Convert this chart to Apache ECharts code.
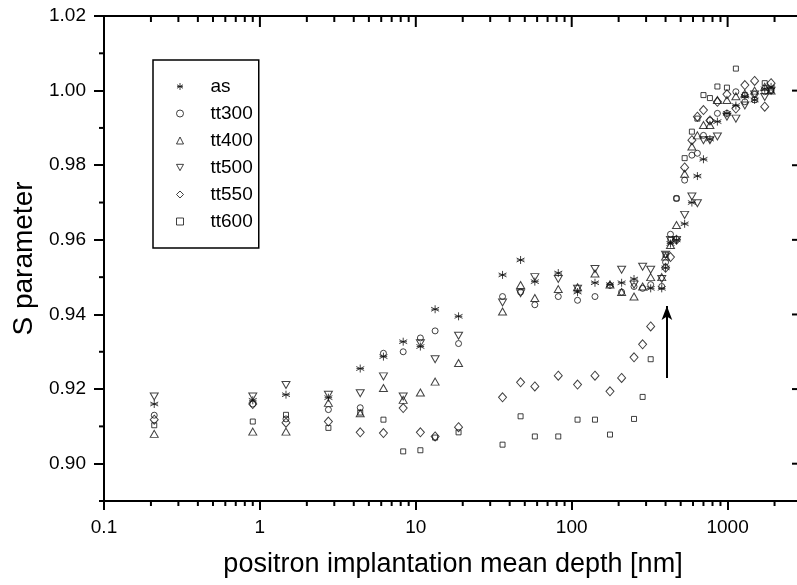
<!DOCTYPE html>
<html>
<head>
<meta charset="utf-8">
<script src="https://cdn.jsdelivr.net/npm/echarts@6/dist/echarts.min.js"></script>
<style>html,body{margin:0;padding:0;background:#fff}#c{width:797px;height:585px}</style>
</head>
<body>
<div id="c"></div>
<script>
// ---- data ----
const depthLow = [0.21, 0.9, 1.47, 2.75, 4.4, 6.2, 8.3, 10.7, 13.3, 18.8, 36, 47, 58, 82, 109, 141, 176, 209, 251, 285, 321, 378];
const depthHigh = [400, 430, 470, 530, 590, 640, 700, 770, 860, 990, 1130, 1290, 1490, 1730, 1900];

const asLow    = [0.916, 0.917, 0.9185, 0.9177, 0.9255, 0.9287, 0.9327, 0.9314, 0.9414, 0.9395, 0.9506, 0.9546, 0.9488, 0.9511, 0.946, 0.9485, 0.948, 0.9485, 0.9495, null, 0.947, 0.947];
const tt300Low = [0.913, 0.916, 0.912, 0.9145, 0.915, 0.9296, 0.930, 0.9337, 0.9356, 0.9322, 0.9448, 0.946, 0.9426, 0.9448, 0.9438, 0.9448, 0.9478, 0.946, 0.9475, 0.947, 0.948, 0.9475];
const tt400Low = [0.908, 0.9086, 0.9086, 0.9163, 0.9135, 0.9203, 0.9171, 0.9191, 0.922, 0.927, 0.9408, 0.9479, 0.9444, 0.9468, 0.9473, 0.951, 0.948, 0.946, 0.9448, 0.9475, 0.950, 0.950];
const tt500Low = [0.918, 0.918, 0.9211, 0.9185, 0.9189, 0.9234, 0.918, 0.9323, 0.928, 0.9343, 0.9432, 0.9457, 0.950, 0.9495, 0.9469, 0.9522, null, 0.952, 0.948, 0.9528, 0.952, 0.9495];
const tt550Low = [0.9118, 0.916, 0.911, 0.9113, 0.9084, 0.9082, 0.9149, 0.9084, 0.9073, 0.9098, 0.9178, 0.9218, 0.9207, 0.9236, 0.9212, 0.9236, 0.9194, 0.9230, 0.9285, 0.932, 0.9368, null];
const tt600Low = [0.9103, 0.9113, 0.9131, 0.9096, 0.9137, 0.9118, 0.9033, 0.9036, 0.907, 0.9084, 0.9051, 0.9127, 0.9073, 0.9073, 0.9118, 0.9118, 0.9078, null, 0.912, 0.9179, 0.928, null];

const asHigh    = [0.9525, 0.959, 0.960, 0.9643, 0.970, 0.9771, 0.9816, 0.987, 0.9917, 0.9939, 0.996, 0.9985, 0.9975, 1.0005, 1.001];
const tt300High = [0.954, 0.9615, 0.9711, 0.976, 0.9827, 0.9832, 0.988, 0.992, 0.9939, 0.9939, 0.9997, 0.997, 0.999, 0.9997, 1.000];
const tt400High = [0.9555, 0.9586, 0.964, 0.9777, 0.985, 0.988, 0.9908, 0.9908, 0.9975, 0.9975, 0.9985, 0.9992, 1.000, 1.001, 1.000];
const tt500High = [0.956, 0.960, 0.960, 0.9667, 0.9716, 0.9698, 0.9867, 0.9867, 0.9877, 0.993, 0.9925, 0.996, 0.999, 0.9983, 1.000];
const tt550High = [0.9525, 0.9554, 0.960, 0.9794, 0.9867, 0.993, 0.9948, 0.992, 0.997, 0.999, 0.9952, 1.0015, 1.0026, 0.9957, 1.002];
const tt600High = [0.956, 0.960, 0.9711, 0.9819, 0.989, 0.9925, 0.9988, 0.998, 1.0011, 1.0008, 1.0059, 0.9988, 0.9975, 1.002, 1.000];

const seriesNames = ['as', 'tt300', 'tt400', 'tt500', 'tt550', 'tt600'];

const xMajorTicks = [0.1, 1, 10, 100, 1000];
const xMinorTicks = [0.2,0.3,0.4,0.5,0.6,0.7,0.8,0.9, 2,3,4,5,6,7,8,9, 20,30,40,50,60,70,80,90, 200,300,400,500,600,700,800,900, 2000];
const yMajorTicks = [0.90, 0.92, 0.94, 0.96, 0.98, 1.00, 1.02];
const yMinorTicks = [0.89, 0.91, 0.93, 0.95, 0.97, 0.99, 1.01];

const arrowFrom = [408, 0.923];
const arrowTo = [408, 0.9423];

// ---- build ----
function pairs(xs, ys) {
  const out = [];
  for (let i = 0; i < xs.length; i++) if (ys[i] != null) out.push([xs[i], ys[i]]);
  return out;
}
const lowSets = [asLow, tt300Low, tt400Low, tt500Low, tt550Low, tt600Low];
const highSets = [asHigh, tt300High, tt400High, tt500High, tt550High, tt600High];

const symbols = [
  'path://M5,0 L5,10 M0.7,2.5 L9.3,7.5 M0.7,7.5 L9.3,2.5 M1,5 L9,5',
  'circle',
  'triangle',
  'path://M0,0 L10,0 L5,9 Z',
  'diamond',
  'rect'
];
const sizes = [[8, 8], 6, [8, 7], [8, 7], [8, 9], 5];

const FONT = 'Liberation Sans, Arial, Helvetica, sans-serif';

const series = seriesNames.map((n, i) => ({
  name: n,
  type: 'scatter',
  symbol: symbols[i],
  symbolSize: sizes[i],
  itemStyle: { color: 'rgba(0,0,0,0)', borderColor: '#111', borderWidth: 1 },
  emphasis: { disabled: true },
  data: pairs(depthLow, lowSets[i]).concat(pairs(depthHigh, highSets[i])),
  z: 3
}));

series.push({
  type: 'line',
  data: [],
  silent: true,
  markLine: {
    silent: true,
    symbol: ['none', 'arrow'],
    symbolSize: [8, 14],
    lineStyle: { color: '#000', width: 2, type: 'solid' },
    label: { show: false },
    emphasis: { disabled: true },
    data: [[{ coord: arrowFrom }, { coord: arrowTo }]]
  }
});

const option = {
  backgroundColor: '#fff',
  animation: false,
  grid: { left: 104, right: -5, top: 16, bottom: 84, containLabel: false, outerBoundsMode: 'none',
    show: true, borderColor: '#000', borderWidth: 2, backgroundColor: 'rgba(0,0,0,0)' },
  legend: {
    orient: 'vertical', left: 153, top: 60,
    padding: [17, 6, 17, 23],
    itemGap: 8, itemWidth: 7, itemHeight: 7,
    borderColor: '#000', borderWidth: 1.5,
    itemStyle: { color: 'rgba(0,0,0,0)', borderColor: '#111', borderWidth: 1 },
    textStyle: { fontSize: 19, fontFamily: FONT, color: '#000', padding: [0, 0, 0, 22] },
    data: seriesNames
  },
  xAxis: {
    type: 'log', logBase: 10, min: 0.1, max: 3000, position: 'bottom',
    axisLine: { show: true, lineStyle: { color: '#000', width: 2 } },
    splitLine: { show: false },
    axisTick: { show: true, inside: false, length: 9, lineStyle: { color: '#000', width: 2 }, customValues: xMajorTicks },
    axisLabel: { show: true, customValues: xMajorTicks, fontSize: 19, fontFamily: FONT, color: '#000', margin: 17,
      formatter: v => String(v) },
    name: 'positron implantation mean depth [nm]', nameLocation: 'middle', nameGap: 50,
    nameTextStyle: { fontSize: 27, fontFamily: FONT, color: '#000' }
  },
  yAxis: {
    type: 'value', min: 0.89, max: 1.02, position: 'left',
    axisLine: { show: true, lineStyle: { color: '#000', width: 2 } },
    splitLine: { show: false },
    axisTick: { show: true, inside: false, length: 10, lineStyle: { color: '#000', width: 2 }, customValues: yMajorTicks },
    axisLabel: { show: true, customValues: yMajorTicks, fontSize: 19, fontFamily: FONT, color: '#000', margin: 18,
      formatter: v => v.toFixed(2) },
    name: 'S parameter', nameLocation: 'middle', nameGap: 66,
    nameTextStyle: { fontSize: 28, fontFamily: FONT, color: '#000' }
  },
  series: series
};

const chart = echarts.init(document.getElementById('c'), null, { renderer: 'canvas' });
chart.setOption(option);

// extra tick marks anchored on pixel positions taken from the chart's own axis scales
try {
  const px = (xv, yv) => chart.convertToPixel({ gridIndex: 0 }, [xv, yv]);
  const A = px(0.1, 0.89), B = px(1000, 1.02);
  const xL = A[0], yBot = A[1], xD = B[0], yTop = B[1];
  const perDecade = (xD - xL) / 4;
  const xOf = v => xL + (Math.log10(v) + 1) * perDecade;
  const yOf = v => px(1, v)[1];
  const x1 = xOf(3000);
  const els = [];
  function bar(x, y, w, h) {
    if ([x, y, w, h].some(v => !isFinite(v))) return;
    els.push({ type: 'rect', silent: true, z: 50, shape: { x: x, y: y, width: w, height: h }, style: { fill: '#000' } });
  }
  xMinorTicks.forEach(v => {
    const x = xOf(v);
    bar(x - 1, yBot, 2, 5);
    bar(x - 1, yTop, 2, 6);
  });
  xMajorTicks.forEach(v => {
    const x = xOf(v);
    bar(x - 1, yTop, 2, 11);
  });
  yMinorTicks.forEach(v => {
    const y = yOf(v);
    bar(xL - 5, y - 1, 5, 2);
    bar(x1 - 5, y - 1, 5, 2);
  });
  yMajorTicks.forEach(v => {
    const y = yOf(v);
    bar(x1 - 10, y - 1, 10, 2);
  });
  chart.setOption({ graphic: { elements: els } });
} catch (e) { /* ignore */ }
</script>
</body>
</html>
